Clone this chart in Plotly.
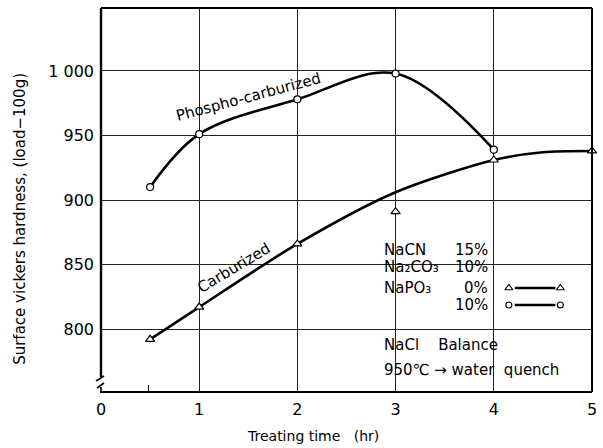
import plotly.graph_objects as go

# ---- data ----
time_phos = [0.5, 1, 2, 3, 4]
hard_phos = [910, 951, 978, 998, 939]

time_carb = [0.5, 1, 2, 3, 4, 5]
hard_carb = [792, 817, 866, 891, 931, 938]

# drawn (fitted) curve for the carburized series
fit_carb_time = [0.5, 1, 2, 3, 4, 4.5, 5]
fit_carb_hard = [792, 817, 866, 906, 931, 937, 938]

x_ticks = [0, 1, 2, 3, 4, 5]
x_ticktext = ["0", "1", "2", "3", "4", "5"]
y_ticks = [800, 850, 900, 950, 1000]
y_ticktext = ["800", "850", "900", "950", "1 000"]

FONT = "DejaVu Sans"
W, H = 603, 448
L, R, T, B = 101, 597, 8, 392


def fx(p):
    return (p - L) / (R - L)


def fy(p):
    return (B - p) / (B - T)


fig = go.Figure()

# phospho-carburized curve + markers
fig.add_trace(go.Scatter(
    x=time_phos, y=hard_phos, mode="lines",
    line=dict(color="black", width=2.6, shape="spline", smoothing=1.0),
    hoverinfo="skip", showlegend=False))
fig.add_trace(go.Scatter(
    x=time_phos, y=hard_phos, mode="markers",
    marker=dict(symbol="circle", size=7, color="white",
                line=dict(color="black", width=1.2)),
    cliponaxis=False, showlegend=False))

# carburized curve + markers
fig.add_trace(go.Scatter(
    x=fit_carb_time, y=fit_carb_hard, mode="lines",
    line=dict(color="black", width=2.6, shape="spline", smoothing=0.8),
    hoverinfo="skip", showlegend=False))
fig.add_trace(go.Scatter(
    x=time_carb, y=hard_carb, mode="markers",
    marker=dict(symbol="triangle-up", size=8, color="white",
                line=dict(color="black", width=1.2)),
    cliponaxis=False, showlegend=False))

# legend samples (on an overlay axis in plot-fraction units)
fig.add_trace(go.Scatter(
    x=[fx(519), fx(560)], y=[fy(288), fy(288)], mode="lines",
    line=dict(color="black", width=2.6), xaxis="x2", yaxis="y2",
    hoverinfo="skip", showlegend=False))
fig.add_trace(go.Scatter(
    x=[fx(513), fx(565)], y=[fy(288), fy(288)], mode="markers",
    marker=dict(symbol="triangle-up", size=7, color="white",
                line=dict(color="black", width=1.1)),
    xaxis="x2", yaxis="y2", hoverinfo="skip", showlegend=False))
fig.add_trace(go.Scatter(
    x=[fx(519), fx(560)], y=[fy(305), fy(305)], mode="lines",
    line=dict(color="black", width=2.6), xaxis="x2", yaxis="y2",
    hoverinfo="skip", showlegend=False))
fig.add_trace(go.Scatter(
    x=[fx(513), fx(565)], y=[fy(305), fy(305)], mode="markers",
    marker=dict(symbol="circle", size=6, color="white",
                line=dict(color="black", width=1.1)),
    xaxis="x2", yaxis="y2", hoverinfo="skip", showlegend=False))

shapes = []
# white boxes behind the legend text (interrupt grid lines)
for (x0, y0, x1, y1) in [(383, 236, 497, 314), (497, 274, 580, 314), (383, 334, 590, 372)]:
    shapes.append(dict(type="rect", xref="paper", yref="paper",
                       x0=fx(x0), x1=fx(x1), y0=fy(y1), y1=fy(y0),
                       fillcolor="white", line=dict(width=0), layer="between"))


def seg(x0, y0, x1, y1, w=2):
    shapes.append(dict(type="line", xref="paper", yref="paper",
                       x0=fx(x0), y0=fy(y0), x1=fx(x1), y1=fy(y1),
                       line=dict(color="black", width=w), layer="above"))


# frame: top, right, bottom, left (with axis break)
seg(L, T, R, T, 2)
seg(R, T, R, B, 2)
seg(L - 1, B, R, B, 2.2)
seg(L, T, L, 377, 2.4)
seg(96, 381, 104, 376, 1.6)
seg(97, 388, 104, 383, 1.6)
seg(101, 387, 101, B, 1.6)
# small tick at 0.5 hr
seg(149, 385, 149, B, 1)

annotations = []


def txt(s, x, y, size=15, xanchor="left", angle=0):
    annotations.append(dict(text=s, x=fx(x), y=fy(y), xref="paper", yref="paper",
                            xanchor=xanchor, yanchor="middle", showarrow=False,
                            textangle=angle,
                            font=dict(family=FONT, size=size, color="black")))


txt("Phospho-carburized", 250, 97, 15, "center", -15)
txt("Carburized", 235, 268, 15, "center", -31)
txt("NaCN", 385, 250, 15)
txt("Na₂CO₃", 385, 267, 15)
txt("NaPO₃", 385, 288, 15)
txt("15%", 494, 250, 15, "right")
txt("10%", 494, 267, 15, "right")
txt("0%", 494, 288, 15, "right")
txt("10%", 494, 305, 15, "right")
txt("NaCl    Balance", 385, 345, 15)
txt("950℃ → water  quench", 385, 370, 15)
txt("Treating time   (hr)", 315, 436, 14, "center")
txt("Surface vickers hardness, (load−100g)", 19, 219, 15, "center", -90)

fig.update_layout(
    width=W, height=H,
    margin=dict(l=L, r=W - R, t=T, b=H - B),
    paper_bgcolor="white", plot_bgcolor="white",
    showlegend=False,
    xaxis=dict(range=[0, 5], tickvals=x_ticks, ticktext=x_ticktext,
               showgrid=True, gridcolor="#222", gridwidth=1,
               zeroline=False, showline=False, ticks="",
               ticklabelstandoff=6,
               tickfont=dict(family=FONT, size=16, color="black")),
    yaxis=dict(range=[751.2, 1048.8], tickvals=y_ticks, ticktext=y_ticktext,
               showgrid=True, gridcolor="#222", gridwidth=1,
               zeroline=False, showline=False, ticks="",
               ticklabelstandoff=6,
               tickfont=dict(family=FONT, size=16, color="black")),
    xaxis2=dict(range=[0, 1], overlaying="x", visible=False),
    yaxis2=dict(range=[0, 1], overlaying="y", visible=False),
    shapes=shapes,
    annotations=annotations,
)

fig.write_html("out.html")
